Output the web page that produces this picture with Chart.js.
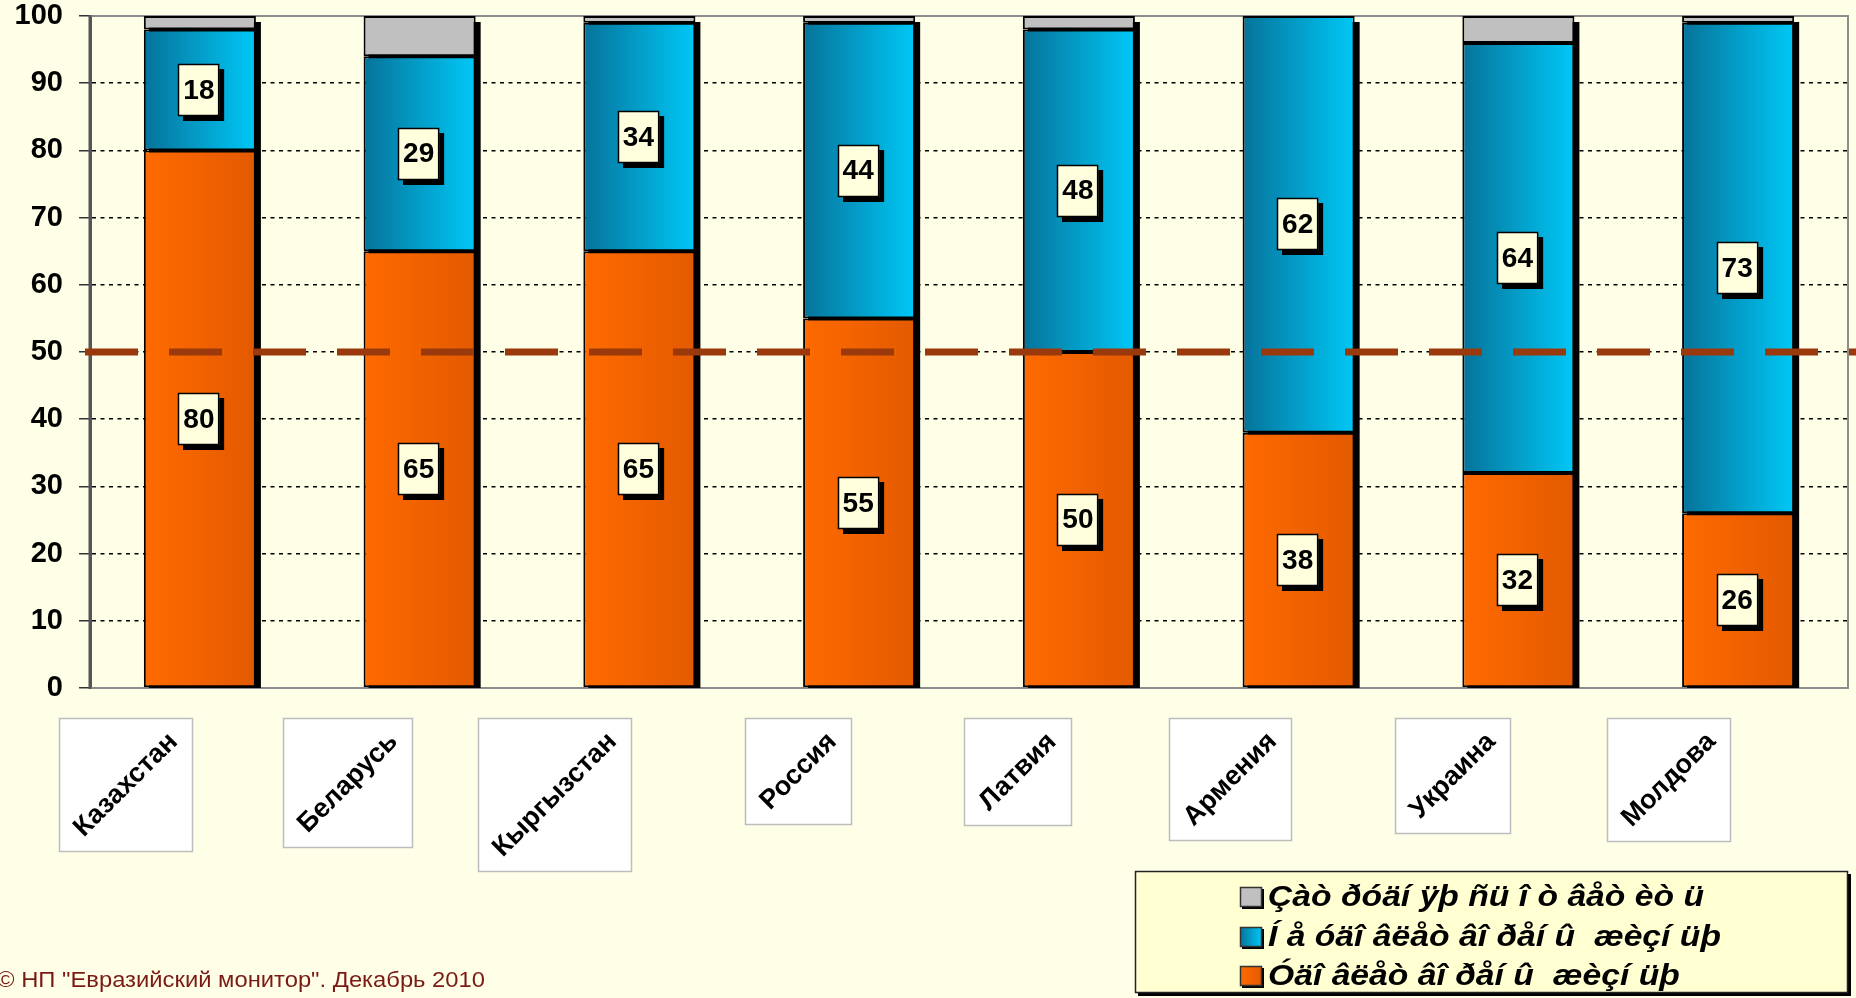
<!DOCTYPE html>
<html>
<head>
<meta charset="utf-8">
<script src="https://cdn.jsdelivr.net/npm/chart.js@4.4.0/dist/chart.umd.min.js"></script>
<style>
  html, body { margin: 0; padding: 0; background: #FFFFE8; }
  #wrap { width: 1856px; height: 998px; position: relative; }
</style>
</head>
<body>
<div id="wrap"><canvas id="c" width="1856" height="998"></canvas></div>
<script>
// ---- data ----
const categories = ['Казахстан', 'Беларусь', 'Кыргызстан', 'Россия', 'Латвия', 'Армения', 'Украина', 'Молдова'];
const satisfiedValues    = [80, 65, 65, 55, 50, 38, 32, 26];
const dissatisfiedValues = [18, 29, 34, 44, 48, 62, 64, 73];
const noAnswerValues     = [2, 6, 1, 1, 2, 0, 4, 1];
const seriesNames = [
  'Óäî âëåò âî ðåí û  æèçí üþ',
  'Í å óäî âëåò âî ðåí û  æèçí üþ',
  'Çàò ðóäí ÿþ ñü î ò âåò èò ü'
];
const yTickValues = [0, 10, 20, 30, 40, 50, 60, 70, 80, 90, 100];
const referenceLevel = 50;
const sourceNote = '© НП "Евразийский монитор". Декабрь 2010';

// ---- styles ----
const GRADS = [['#FF6A00', '#E35A00'], ['#06739A', '#00C8F7'], null];
const FLAT = ['#FF6600', '#00A8D8', '#C0C0C0'];

const stylePlugin = {
  id: 'styler',
  beforeDatasetsDraw(chart) {
    const ctx = chart.ctx;
    const a = chart.chartArea;
    ctx.save();
    ctx.strokeStyle = '#8C8C8C';
    ctx.lineWidth = 2;
    ctx.beginPath();
    ctx.moveTo(a.left, a.top); ctx.lineTo(a.right, a.top); ctx.lineTo(a.right, a.bottom); ctx.lineTo(a.left, a.bottom);
    ctx.stroke();
    ctx.strokeStyle = '#555';
    ctx.lineWidth = 3;
    ctx.beginPath(); ctx.moveTo(a.left, a.top - 1); ctx.lineTo(a.left, a.bottom + 1); ctx.stroke();
    ctx.restore();

    chart.data.datasets.forEach((ds, di) => {
      const g2 = GRADS[di];
      if (!g2) return;
      chart.getDatasetMeta(di).data.forEach(el => {
        const g = ctx.createLinearGradient(el.x - el.width / 2, 0, el.x + el.width / 2, 0);
        g.addColorStop(0, g2[0]);
        g.addColorStop(1, g2[1]);
        el.options = Object.assign({}, el.options, { backgroundColor: g });
      });
    });

    const base = chart.scales.y.getPixelForValue(0);
    ctx.save();
    ctx.fillStyle = '#000';
    categories.forEach((c, i) => {
      let top = Infinity, left = 0, w = 0;
      chart.data.datasets.forEach((ds, di) => {
        const el = chart.getDatasetMeta(di).data[i];
        if (ds.data[i] > 0 && el.y < top) { top = el.y; left = el.x - el.width / 2; w = el.width; }
      });
      ctx.fillRect(left + 5, top + 6, w, base - top - 6);
    });
    ctx.restore();
  },
  afterDatasetsDraw(chart) {
    const ctx = chart.ctx;
    const ys = chart.scales.y;
    const a = chart.chartArea;
    const yRef = ys.getPixelForValue(referenceLevel);
    ctx.save();
    ctx.strokeStyle = '#9A3A0C';
    ctx.lineWidth = 7;
    ctx.setLineDash([53, 31]);
    ctx.beginPath();
    ctx.moveTo(a.left - 5, yRef);
    ctx.lineTo(chart.width, yRef);
    ctx.stroke();
    ctx.restore();

    ctx.save();
    ctx.font = 'bold 28px "Liberation Sans", Arial, sans-serif';
    ctx.textAlign = 'center';
    ctx.textBaseline = 'middle';
    [0, 1].forEach(di => {
      const ds = chart.data.datasets[di];
      chart.getDatasetMeta(di).data.forEach((el, i) => {
        const txt = String(ds.data[i]);
        const cx = el.x - 1;
        const cy = (el.y + el.base) / 2;
        const w = ctx.measureText(txt).width + 10;
        const h = 52;
        const x0 = Math.round(cx - w / 2), y0 = Math.round(cy - h / 2);
        ctx.fillStyle = '#000';
        ctx.fillRect(x0 + 5, y0 + 5, w, h);
        ctx.fillStyle = '#FFFFDE';
        ctx.fillRect(x0, y0, w, h);
        ctx.strokeStyle = '#000';
        ctx.lineWidth = 1.5;
        ctx.strokeRect(x0 + 0.5, y0 + 0.5, w - 1, h - 1);
        ctx.fillStyle = '#000';
        ctx.fillText(txt, cx, cy + 1);
      });
    });
    ctx.restore();
  },
  afterDraw(chart) {
    const ctx = chart.ctx;
    const xs = chart.scales.x;
    const a = chart.chartArea;
    ctx.save();
    const fs = 27;
    ctx.font = 'bold ' + fs + 'px "Liberation Sans", Arial, sans-serif';
    ctx.textAlign = 'center';
    ctx.textBaseline = 'middle';
    categories.forEach((lab, i) => {
      const cx = xs.getPixelForValue(i);
      const tw = ctx.measureText(lab).width;
      const side = Math.round((tw + fs) * Math.SQRT1_2 + 20);
      const right = Math.round(cx - 7);
      const top = Math.round(a.bottom + 30);
      ctx.fillStyle = '#FFFFFF';
      ctx.fillRect(right - side, top, side, side);
      ctx.strokeStyle = '#BDBDBD';
      ctx.lineWidth = 1.5;
      ctx.strokeRect(right - side + 0.5, top + 0.5, side - 1, side - 1);
      ctx.save();
      ctx.translate(right - side / 2, top + side / 2);
      ctx.rotate(-Math.PI / 4);
      ctx.fillStyle = '#000';
      ctx.fillText(lab, 0, 0);
      ctx.restore();
    });
    ctx.restore();

    const L = { x: 1135, y: 871, w: 713, h: 122 };
    ctx.save();
    ctx.fillStyle = '#000';
    ctx.fillRect(L.x + 3, L.y + 3, L.w, L.h);
    ctx.fillStyle = '#FFFFD2';
    ctx.fillRect(L.x, L.y, L.w, L.h);
    ctx.strokeStyle = '#222';
    ctx.lineWidth = 1.5;
    ctx.strokeRect(L.x + 0.5, L.y + 0.5, L.w - 1, L.h - 1);
    const rowsY = [897, 937, 976];
    const order = [2, 1, 0];
    ctx.font = 'italic bold 29px "Liberation Sans Narrow", "Liberation Sans", Arial, sans-serif';
    ctx.textBaseline = 'middle';
    ctx.textAlign = 'left';
    const f = 436 / ctx.measureText(seriesNames[2]).width;
    order.forEach((di, r) => {
      const y = rowsY[r];
      const mx = 1240, my = y - 10, mw = 22, mh = 20;
      ctx.fillStyle = '#000';
      ctx.fillRect(mx + 2, my + 2, mw, mh);
      if (GRADS[di]) {
        const g = ctx.createLinearGradient(mx, 0, mx + mw, 0);
        g.addColorStop(0, GRADS[di][0]); g.addColorStop(1, GRADS[di][1]);
        ctx.fillStyle = g;
      } else ctx.fillStyle = FLAT[di];
      ctx.fillRect(mx, my, mw, mh);
      ctx.strokeStyle = '#333';
      ctx.lineWidth = 1.5;
      ctx.strokeRect(mx + 0.5, my + 0.5, mw - 1, mh - 1);
      ctx.save();
      ctx.translate(1268, y + 1);
      ctx.scale(f, 1);
      ctx.fillStyle = '#000';
      ctx.fillText(chart.data.datasets[di].label, 0, 0);
      ctx.restore();
    });
    ctx.restore();

    ctx.save();
    ctx.font = '22px "Liberation Sans", Arial, sans-serif';
    ctx.textBaseline = 'middle';
    ctx.textAlign = 'left';
    const sw = ctx.measureText(sourceNote).width;
    ctx.translate(-3, 981);
    ctx.scale(488 / sw, 1);
    ctx.fillStyle = '#7A1A14';
    ctx.fillText(sourceNote, 0, 0);
    ctx.restore();
  }
};

new Chart(document.getElementById('c'), {
  type: 'bar',
  data: {
    labels: categories,
    datasets: [
      { label: seriesNames[0], data: satisfiedValues, backgroundColor: FLAT[0] },
      { label: seriesNames[1], data: dissatisfiedValues, backgroundColor: FLAT[1] },
      { label: seriesNames[2], data: noAnswerValues, backgroundColor: FLAT[2] }
    ]
  },
  options: {
    responsive: false,
    animation: false,
    devicePixelRatio: 1,
    layout: { padding: { top: 16, right: 8, bottom: 310, left: 0 } },
    datasets: {
      bar: {
        borderColor: '#000',
        borderWidth: 2,
        borderSkipped: false,
        barPercentage: 0.51,
        categoryPercentage: 1
      }
    },
    scales: {
      x: {
        stacked: true,
        grid: { display: false, drawTicks: false },
        ticks: { display: false },
        border: { display: true, color: '#8C8C8C', width: 2 }
      },
      y: {
        stacked: true,
        min: 0,
        max: 100,
        afterBuildTicks: s => { s.ticks = yTickValues.map(v => ({ value: v })); },
        afterFit: s => { s.width = 90; s.paddingTop = 0; s.paddingBottom = 0; },
        ticks: {
          color: '#000',
          padding: 16,
          font: { family: '"Liberation Sans", Arial, sans-serif', weight: 'bold', size: 29 }
        },
        grid: {
          color: '#000',
          lineWidth: 1.5,
          tickLength: 11,
          tickColor: '#333',
          tickWidth: 1.5,
          tickBorderDash: []
        },
        border: { display: true, color: '#555', width: 3, dash: [4, 4.5] }
      }
    },
    plugins: { legend: { display: false }, tooltip: { enabled: false } }
  },
  plugins: [stylePlugin]
});
</script>
</body>
</html>
